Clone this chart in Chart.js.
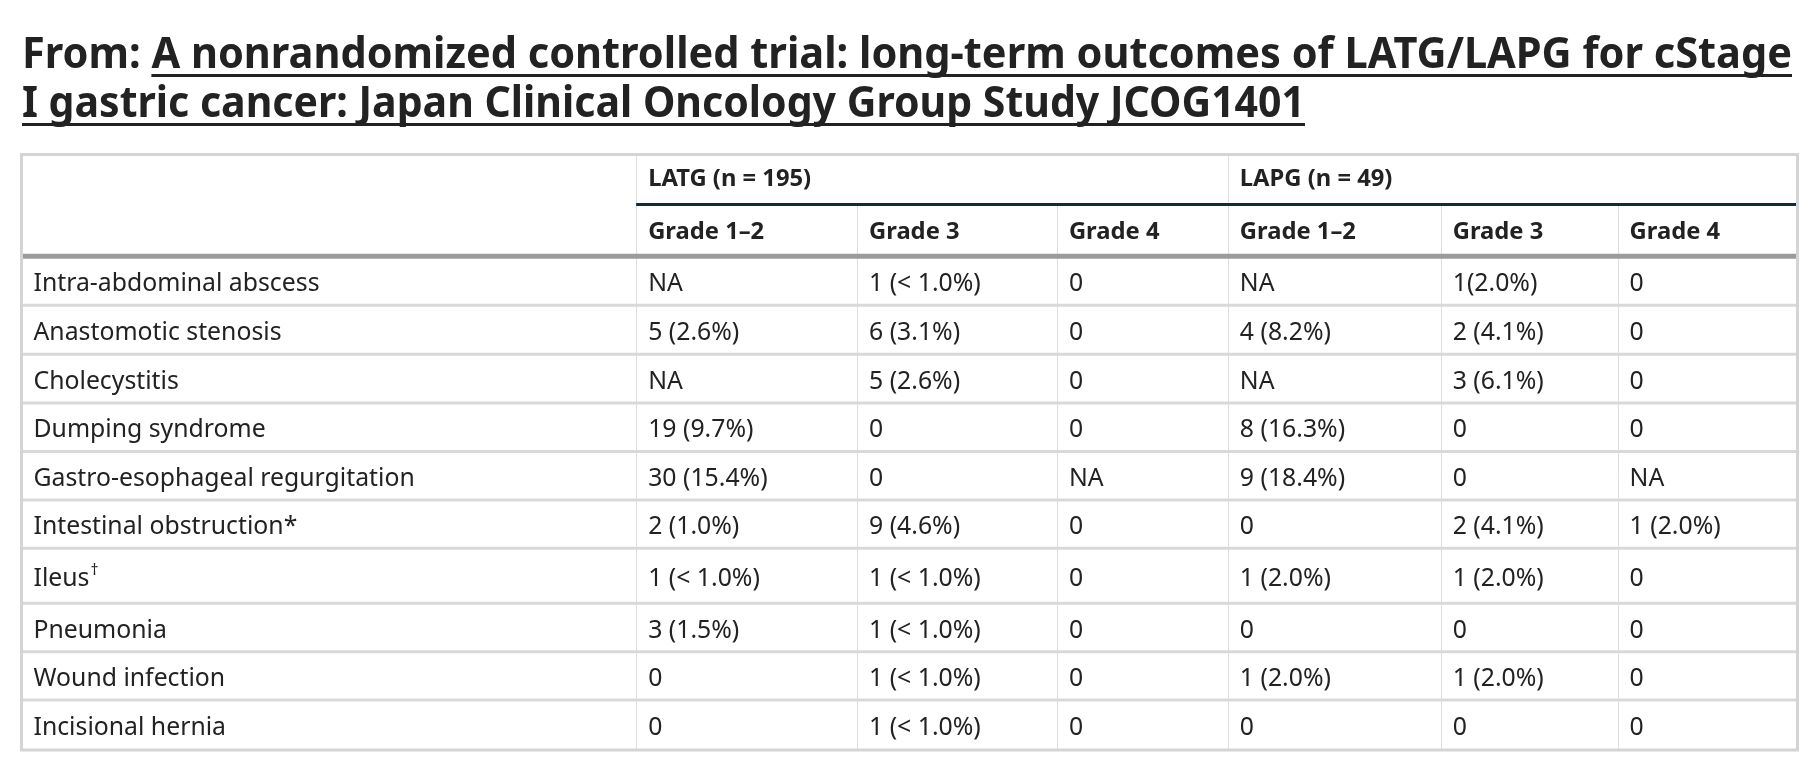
<!DOCTYPE html>
<html>
<head>
<meta charset="utf-8">
<title>JCOG1401 – late complications</title>
<script src="https://cdn.jsdelivr.net/npm/chart.js@4.4.1/dist/chart.umd.min.js"></script>
<style>
    html, body { margin: 0; padding: 0; background: #fff; }
    #wrap { position: relative; width: 1815px; height: 771px; }
</style>
</head>
<body>
<div id="wrap"><canvas id="tableChart"></canvas></div>
<script>
// Titel
const titlePrefix = 'From: ';
const titleLines = [
    'A nonrandomized controlled trial: long-term outcomes of LATG/LAPG for cStage',
    'I gastric cancer: Japan Clinical Oncology Group Study JCOG1401'
];

// Kopfzeilen
const groups = ['LATG (n = 195)', 'LAPG (n = 49)'];
const grades = ['Grade 1–2', 'Grade 3', 'Grade 4'];

// Zeilen
const events = [
    'Intra-abdominal abscess', 'Anastomotic stenosis', 'Cholecystitis', 'Dumping syndrome',
    'Gastro-esophageal regurgitation', 'Intestinal obstruction*', 'Ileus', 'Pneumonia',
    'Wound infection', 'Incisional hernia'
];
const eventMarks = ['', '', '', '', '', '', '†', '', '', ''];

// Werte
const latgGrade12 = ['NA', '5 (2.6%)', 'NA', '19 (9.7%)', '30 (15.4%)', '2 (1.0%)', '1 (< 1.0%)', '3 (1.5%)', '0', '0'];
const latgGrade3 = ['1 (< 1.0%)', '6 (3.1%)', '5 (2.6%)', '0', '0', '9 (4.6%)', '1 (< 1.0%)', '1 (< 1.0%)', '1 (< 1.0%)', '1 (< 1.0%)'];
const latgGrade4 = ['0', '0', '0', '0', 'NA', '0', '0', '0', '0', '0'];
const lapgGrade12 = ['NA', '4 (8.2%)', 'NA', '8 (16.3%)', '9 (18.4%)', '0', '1 (2.0%)', '0', '1 (2.0%)', '0'];
const lapgGrade3 = ['1(2.0%)', '2 (4.1%)', '3 (6.1%)', '0', '0', '2 (4.1%)', '1 (2.0%)', '0', '1 (2.0%)', '0'];
const lapgGrade4 = ['0', '0', '0', '0', 'NA', '1 (2.0%)', '0', '0', '0', '0'];

const columns = [latgGrade12, latgGrade3, latgGrade4, lapgGrade12, lapgGrade3, lapgGrade4];

// Layout (Pixel in Tabelleneinheiten)
const colWidths = [615, 221, 200, 171, 213, 177, 180];
const headHeights = [50, 52];
const rowHeights = [49, 49, 49, 48.5, 48.5, 48.5, 55, 48.7, 48.3, 50];

const cum = arr => arr.reduce((acc, v) => { acc.push(acc[acc.length - 1] + v); return acc; }, [0]);
const colStarts = cum(colWidths);
const rowStarts = cum(headHeights.concat(rowHeights));

const textColor = '#222';
const fontFamily = '"Noto Sans", "Open Sans", sans-serif';

function squeezed(ctx, str, x, y, sx) {
    ctx.save();
    ctx.translate(x, y);
    ctx.scale(sx, 1);
    ctx.fillText(str, 0, 0);
    ctx.restore();
    return ctx.measureText(str).width * sx;
}

const tablePlugin = {
    id: 'tableCells',
    afterDraw(chart) {
        const { ctx, scales: { x, y } } = chart;
        const px = v => x.getPixelForValue(v);
        const py = v => y.getPixelForValue(v);
        const left = px(0), right = px(colStarts[colStarts.length - 1]);
        const top = py(0), bottom = py(rowStarts[rowStarts.length - 1]);
        const head1 = py(rowStarts[1]), head2 = py(rowStarts[2]);

        ctx.save();
        ctx.fillStyle = '#fff';
        ctx.fillRect(0, 0, chart.width, chart.height);

        // Spaltenlinien
        ctx.strokeStyle = '#dedede';
        ctx.lineWidth = 1;
        for (let c = 1; c < colWidths.length; c++) {
            const xx = Math.round(px(colStarts[c])) + 0.5;
            const y0 = (c === 1 || c === 4) ? top : head1;
            ctx.beginPath();
            ctx.moveTo(xx, y0);
            ctx.lineTo(xx, bottom);
            ctx.stroke();
        }

        // Zeilenlinien
        ctx.strokeStyle = '#d9d9d9';
        ctx.lineWidth = 3;
        for (let r = 3; r < rowStarts.length - 1; r++) {
            const yy = py(rowStarts[r]);
            ctx.beginPath();
            ctx.moveTo(left, yy);
            ctx.lineTo(right, yy);
            ctx.stroke();
        }

        // Kopflinien
        ctx.strokeStyle = '#0e2c3d';
        ctx.lineWidth = 3;
        ctx.beginPath();
        ctx.moveTo(px(colStarts[1]), head1);
        ctx.lineTo(right, head1);
        ctx.stroke();

        ctx.strokeStyle = '#9b9b9b';
        ctx.lineWidth = 5;
        ctx.beginPath();
        ctx.moveTo(left, head2);
        ctx.lineTo(right, head2);
        ctx.stroke();

        // Rahmen
        ctx.strokeStyle = '#d4d4d4';
        ctx.lineWidth = 3;
        ctx.strokeRect(left, top, right - left, bottom - top);

        // Texte
        const pad = 12;
        const bodyFont = '25px ' + fontFamily;
        const headFont = 'bold 24px ' + fontFamily;
        ctx.fillStyle = textColor;
        ctx.textBaseline = 'alphabetic';
        ctx.textAlign = 'left';

        ctx.font = bodyFont;
        const bodySx = Math.min(1, 286 / ctx.measureText(events[0]).width);
        const bodyCap = ctx.measureText('H').actualBoundingBoxAscent;
        ctx.font = headFont;
        const headSx = Math.min(1, 163 / ctx.measureText(groups[0]).width);
        const headCap = ctx.measureText('H').actualBoundingBoxAscent;

        const midY = (a, b) => (py(rowStarts[a]) + py(rowStarts[b])) / 2;

        // Gruppen
        ctx.font = headFont;
        squeezed(ctx, groups[0], px(colStarts[1]) + pad, midY(0, 1) + headCap / 2 - 2, headSx);
        squeezed(ctx, groups[1], px(colStarts[4]) + pad, midY(0, 1) + headCap / 2 - 2, headSx);
        // Grade
        for (let g = 0; g < 6; g++) {
            squeezed(ctx, grades[g % 3], px(colStarts[g + 1]) + pad, midY(1, 2) + headCap / 2, headSx);
        }

        // Daten
        ctx.font = bodyFont;
        events.forEach((ev, i) => {
            const base = midY(i + 2, i + 3) + bodyCap / 2 + 1;
            const w = squeezed(ctx, ev, px(colStarts[0]) + pad, base, bodySx);
            if (eventMarks[i]) {
                ctx.font = '16px ' + fontFamily;
                squeezed(ctx, eventMarks[i], px(colStarts[0]) + pad + w + 1, base - 11, bodySx);
                ctx.font = bodyFont;
            }
            columns.forEach((col, c) => {
                squeezed(ctx, col[i], px(colStarts[c + 1]) + pad, base, bodySx);
            });
        });

        // Titel
        ctx.font = 'bold 43px ' + fontFamily;
        const sx1 = Math.min(1, 1770 / ctx.measureText(titlePrefix + titleLines[0]).width);
        const sx2 = Math.min(1, 1283 / ctx.measureText(titleLines[1]).width);
        const tx = 22;
        const baselines = [68, 117];
        const pw = squeezed(ctx, titlePrefix, tx, baselines[0], sx1);
        const w1 = squeezed(ctx, titleLines[0], tx + pw, baselines[0], sx1);
        const w2 = squeezed(ctx, titleLines[1], tx, baselines[1], sx2);
        ctx.fillRect(tx + pw, baselines[0] + 6, w1, 3);
        ctx.fillRect(tx, baselines[1] + 6, w2, 3);
        ctx.restore();
    }
};

const ctx = document.getElementById('tableChart').getContext('2d');
const tableChart = new Chart(ctx, {
    type: 'scatter',
    data: { datasets: [] },
    options: {
        responsive: true,
        maintainAspectRatio: false,
        animation: false,
        layout: {
            padding: { left: 21.5, right: 17.5, top: 154.5, bottom: 21 }
        },
        scales: {
            x: { type: 'linear', display: false, min: 0, max: colStarts[colStarts.length - 1] },
            y: { type: 'linear', display: false, reverse: true, min: 0, max: rowStarts[rowStarts.length - 1] }
        },
        plugins: {
            legend: { display: false },
            tooltip: { enabled: false }
        }
    },
    plugins: [tablePlugin]
});
</script>
</body>
</html>
